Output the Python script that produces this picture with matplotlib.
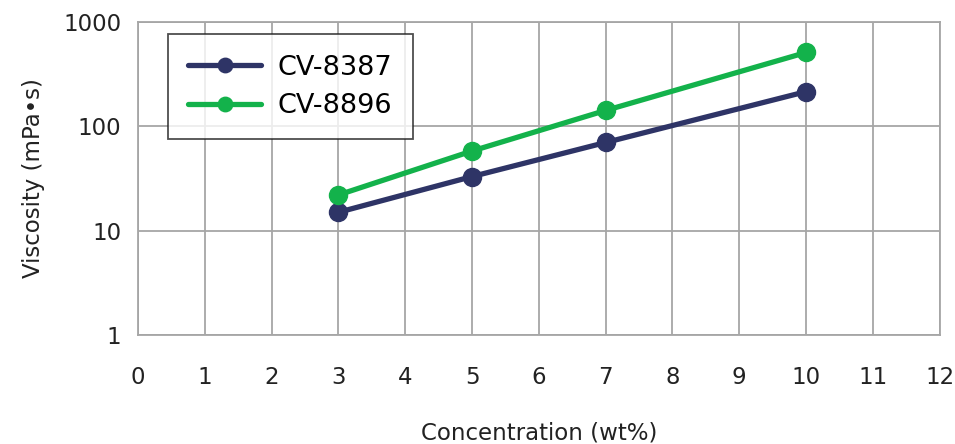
import matplotlib
matplotlib.use("Agg")
import matplotlib.pyplot as plt

plt.rcParams['font.family'] = ['DejaVu Sans', 'Noto Sans CJK JP']

conc = [3, 5, 7, 10]
cv8387 = [15, 33, 70, 215]
cv8896 = [22, 58, 142, 510]
series_names = ["CV-8387", "CV-8896"]
xticks = list(range(0, 13))
yticks = [1, 10, 100, 1000]
yticklabels = ["1", "10", "100", "1000"]

fig = plt.figure(figsize=(9.55, 4.44), dpi=100)
ax = fig.add_axes([0.1445, 0.2455, 0.8395, 0.705])

ax.plot(conc, cv8387, color="#2e3466", lw=3.8, marker="o", ms=13, label=series_names[0], solid_capstyle="round")
ax.plot(conc, cv8896, color="#13b24b", lw=3.8, marker="o", ms=13, label=series_names[1], solid_capstyle="round")

ax.set_yscale("log")
ax.set_xlim(0, 12)
ax.set_ylim(1, 1000)
ax.set_xticks(xticks)
ax.set_xticklabels([str(t) for t in xticks])
ax.set_yticks(yticks)
ax.set_yticklabels(yticklabels)
ax.minorticks_off()
ax.tick_params(axis="both", length=0, labelsize=16.5, colors="#222222")
ax.tick_params(axis="x", pad=22)
ax.tick_params(axis="y", pad=12)
ax.grid(True, color="#a6a6a6", lw=1.3)
ax.set_axisbelow(True)
for s in ax.spines.values():
    s.set_color("#a6a6a6")
    s.set_linewidth(1.3)

ax.set_xlabel("Concentration (wt%)", fontsize=16.5, color="#222222", labelpad=24)
ax.set_ylabel("Viscosity (mPa•s)", fontsize=16.5, color="#222222", labelpad=13)

leg = ax.legend(loc="upper left", bbox_to_anchor=(0.0375, 0.96), fontsize=19.5,
                frameon=True, fancybox=False, edgecolor="#222222", handlelength=2.7,
                borderpad=0.75, labelspacing=0.45, handletextpad=0.6, borderaxespad=0,
                markerscale=0.8)
leg.get_frame().set_linewidth(1.3)

fig.savefig("out.png", dpi=100)
